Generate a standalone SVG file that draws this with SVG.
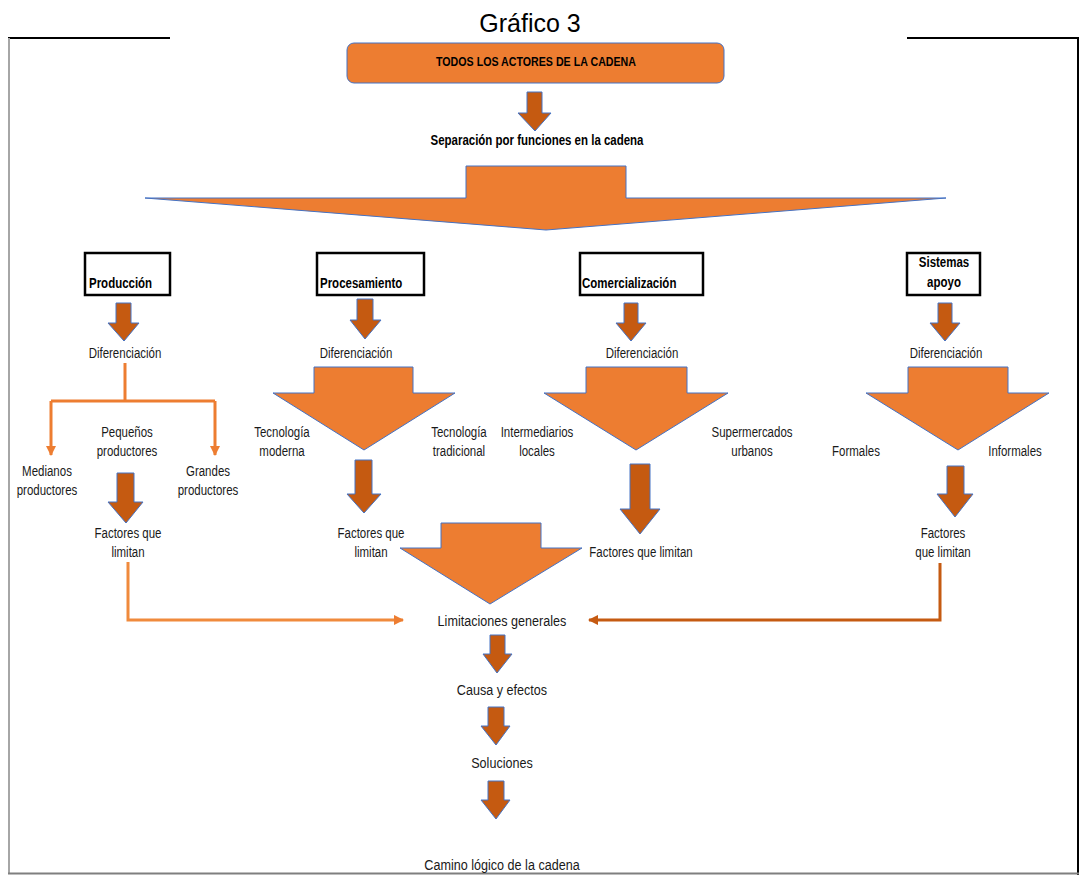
<svg xmlns="http://www.w3.org/2000/svg" width="1079" height="875" viewBox="0 0 1079 875">
<style>
.t{font-family:'Liberation Sans',Arial,sans-serif;font-size:14px;fill:#1a1a1a;text-anchor:middle}
.b{font-weight:bold;fill:#000}
.s{text-anchor:start}
.c{font-size:15px}
.dk{fill:#C55A11;stroke:#4472C4;stroke-width:1}
.lt{fill:#ED7D31;stroke:#4472C4;stroke-width:1}
.box{fill:#fff;stroke:#000;stroke-width:2.5}
.ln{fill:none;stroke-width:3}
</style>
<defs>
<marker id="mL" viewBox="0 0 10 10" refX="9" refY="5" markerWidth="3.5" markerHeight="3.5" orient="auto" markerUnits="strokeWidth"><path d="M0 0L10 5L0 10z" fill="#ED7D31"/></marker>
<marker id="mD" viewBox="0 0 10 10" refX="9" refY="5" markerWidth="3.5" markerHeight="3.5" orient="auto" markerUnits="strokeWidth"><path d="M0 0L10 5L0 10z" fill="#C55A11"/></marker>
</defs>
<rect width="1079" height="875" fill="#fff"/>
<g id="frame">
<path d="M8 38H170M907 38H1078V875" stroke="#000" stroke-width="2" fill="none"/>
<path d="M9 38V873" stroke="#A6A6A6" stroke-width="2"/>
<path d="M8 873.5H1079" stroke="#7F7F7F" stroke-width="2"/>
</g>
<text x="530" y="32" style="font-family:'Liberation Sans',Arial,sans-serif;font-size:25px;fill:#000;text-anchor:middle">Gráfico 3</text>
<g id="top">
<rect x="347" y="43" width="377" height="40" rx="7" class="lt"/>
<text transform="translate(536 66) scale(.82 1)" class="t b" style="font-size:13px">TODOS LOS ACTORES DE LA CADENA</text>
</g>
<g id="connectors">
<polygon class="dk" points="527,92 542,92 542,113 551,113 535,131 518,113 527,113"/>
<polygon class="lt" points="466,166 626,166 626,198 946,198 546,230 145,198 466,198"/>
<polygon class="dk" points="116,303 131,303 131,323 139,323 124,341 108,323 116,323"/>
<polygon class="dk" points="357,299 373,299 373,320 381,320 365,339 350,320 357,320"/>
<polygon class="dk" points="624,303 638,303 638,323 646,323 631,341 616,323 624,323"/>
<polygon class="dk" points="938,303 952,303 952,323 960,323 945,341 930,323 938,323"/>
<polygon class="lt" points="314,367 413,367 413,393 455,393 364,450 273,393 314,393"/>
<polygon class="lt" points="586,367 687,367 687,393 728,393 636,450 544,393 586,393"/>
<polygon class="lt" points="908,367 1008,367 1008,393 1049,393 958,450 866,393 908,393"/>
<polygon class="dk" points="117,473 134,473 134,502 143,502 126,523 108,502 117,502"/>
<polygon class="dk" points="355,460 372,460 372,494 381,494 364,513 347,494 355,494"/>
<polygon class="dk" points="630,464 650,464 650,509 660,509 640,534 620,509 630,509"/>
<polygon class="dk" points="947,466 964,466 964,494 973,494 955,517 937,494 947,494"/>
<polygon class="lt" points="441,523 541,523 541,548 582,548 490,604 400,548 441,548"/>
<polygon class="dk" points="490,635 505,635 505,654 512,654 497,673 483,654 490,654"/>
<polygon class="dk" points="488,707 504,707 504,726 510,726 496,745 481,726 488,726"/>
<polygon class="dk" points="488,781 504,781 504,800 510,800 496,819 481,800 488,800"/>
<path class="ln" stroke="#ED7D31" d="M125 363V401"/>
<path class="ln" stroke="#ED7D31" d="M51 401H215"/>
<path class="ln" stroke="#ED7D31" d="M51 401V455" marker-end="url(#mL)"/>
<path class="ln" stroke="#ED7D31" d="M215 401V455" marker-end="url(#mL)"/>
<path class="ln" stroke="#F08A3C" d="M128 562V620H403" marker-end="url(#mL)"/>
<path class="ln" stroke="#C55A11" d="M940 563V620H589" marker-end="url(#mD)"/>
</g>
<text transform="translate(537 145) scale(.82 1)" class="t b">Separación por funciones en la cadena</text>
<g id="produccion">
<rect x="85" y="253" width="85" height="42" class="box"/>
<text transform="translate(89 288) scale(.82 1)" class="t b s">Producción</text>
<text transform="translate(125 358) scale(.82 1)" class="t">Diferenciación</text>
<text transform="translate(127 437) scale(.82 1)" class="t">Pequeños</text>
<text transform="translate(127 456) scale(.82 1)" class="t">productores</text>
<text transform="translate(47 476) scale(.82 1)" class="t">Medianos</text>
<text transform="translate(47 495) scale(.82 1)" class="t">productores</text>
<text transform="translate(208 476) scale(.82 1)" class="t">Grandes</text>
<text transform="translate(208 495) scale(.82 1)" class="t">productores</text>
<text transform="translate(128 538) scale(.82 1)" class="t">Factores que</text>
<text transform="translate(128 557) scale(.82 1)" class="t">limitan</text>
</g>
<g id="procesamiento">
<rect x="317" y="253" width="107" height="42" class="box"/>
<text transform="translate(320 288) scale(.82 1)" class="t b s">Procesamiento</text>
<text transform="translate(356 358) scale(.82 1)" class="t">Diferenciación</text>
<text transform="translate(282 437) scale(.82 1)" class="t">Tecnología</text>
<text transform="translate(282 456) scale(.82 1)" class="t">moderna</text>
<text transform="translate(459 437) scale(.82 1)" class="t">Tecnología</text>
<text transform="translate(459 456) scale(.82 1)" class="t">tradicional</text>
<text transform="translate(371 538) scale(.82 1)" class="t">Factores que</text>
<text transform="translate(371 557) scale(.82 1)" class="t">limitan</text>
</g>
<g id="comercializacion">
<rect x="580" y="253" width="123" height="42" class="box"/>
<text transform="translate(582 288) scale(.82 1)" class="t b s">Comercialización</text>
<text transform="translate(642 358) scale(.82 1)" class="t">Diferenciación</text>
<text transform="translate(537 437) scale(.82 1)" class="t">Intermediarios</text>
<text transform="translate(537 456) scale(.82 1)" class="t">locales</text>
<text transform="translate(752 437) scale(.82 1)" class="t">Supermercados</text>
<text transform="translate(752 456) scale(.82 1)" class="t">urbanos</text>
<text transform="translate(641 557) scale(.82 1)" class="t">Factores que limitan</text>
</g>
<g id="sistemas">
<rect x="907" y="253" width="73" height="42" class="box"/>
<text transform="translate(944 267) scale(.82 1)" class="t b">Sistemas</text>
<text transform="translate(944 287) scale(.82 1)" class="t b">apoyo</text>
<text transform="translate(946 358) scale(.82 1)" class="t">Diferenciación</text>
<text transform="translate(856 456) scale(.82 1)" class="t">Formales</text>
<text transform="translate(1015 456) scale(.82 1)" class="t">Informales</text>
<text transform="translate(943 538) scale(.82 1)" class="t">Factores</text>
<text transform="translate(943 557) scale(.82 1)" class="t">que limitan</text>
</g>
<g id="general">
<text transform="translate(502 626) scale(.84 1)" class="t c">Limitaciones generales</text>
<text transform="translate(502 695) scale(.84 1)" class="t c">Causa y efectos</text>
<text transform="translate(502 768) scale(.84 1)" class="t c">Soluciones</text>
<text transform="translate(502 870) scale(.84 1)" class="t c">Camino lógico de la cadena</text>
</g>
</svg>
